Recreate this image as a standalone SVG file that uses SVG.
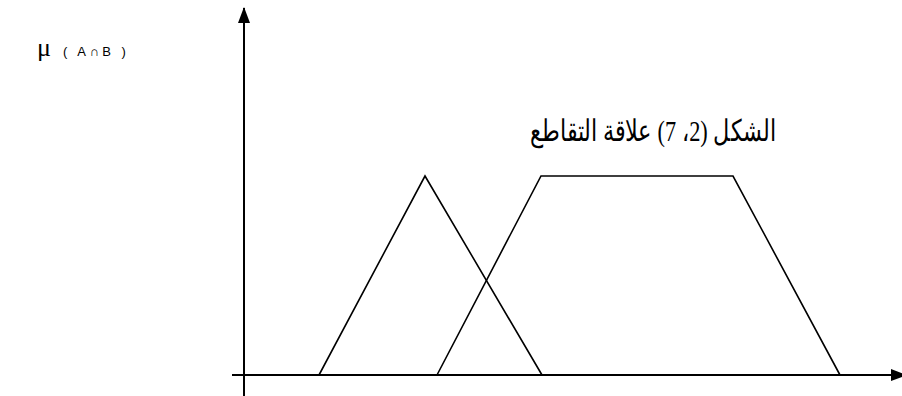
<svg xmlns="http://www.w3.org/2000/svg" width="902" height="396" viewBox="0 0 902 396">
<style>
.ax{stroke:#000;stroke-width:2;fill:none}
.sh{stroke:#000;stroke-width:1.6;fill:none;stroke-linejoin:miter}
</style>
<defs>
<marker id="ah" markerWidth="16" markerHeight="12" refX="15" refY="6" orient="auto" markerUnits="userSpaceOnUse" viewBox="0 0 16 12">
<path d="M0,0 L16,6 L0,12 z" fill="#000"/>
</marker>
</defs>
<rect width="902" height="396" fill="#fff"/>
<g id="connectors">
<line class="ax" x1="244" y1="396" x2="244" y2="8" marker-end="url(#ah)"/>
<line class="ax" x1="232" y1="375" x2="906" y2="375" marker-end="url(#ah)"/>
</g>
<g id="triangle"><polyline class="sh" points="319,375 425,176 542,375"/></g>
<g id="trapezoid"><polyline class="sh" points="437,375 541,176 733,176 840,375"/></g>
<g id="label-mu">
<text x="37" y="56" font-family="Liberation Serif, serif" font-size="26">μ</text>
<text x="63" y="56" font-family="Liberation Sans, sans-serif" font-size="13" letter-spacing="3.5">( A∩B )</text>
</g>
<g id="title">
<text x="776" y="141" direction="rtl" font-family="Liberation Serif, DejaVu Serif, serif" font-size="30" textLength="246" lengthAdjust="spacingAndGlyphs">الشكل (2، 7) علاقة التقاطع</text>
</g>
</svg>
